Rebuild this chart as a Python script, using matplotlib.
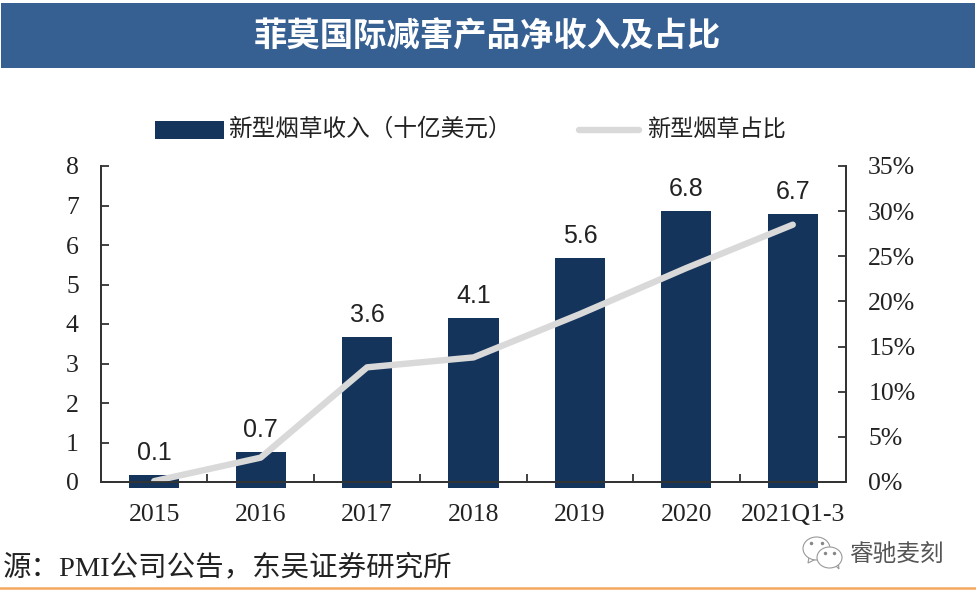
#!/usr/bin/env python3
"""
PMI reduced-risk product revenue and share.
"""

import matplotlib
matplotlib.use("Agg")
import matplotlib.pyplot as plt
from matplotlib.patches import Ellipse, Rectangle, Polygon

SERIF = ["Liberation Serif", "Noto Sans CJK SC", "DejaVu Sans"]
CJK = ["Noto Sans CJK SC", "DejaVu Sans"]

# data
years = ["2015", "2016", "2017", "2018", "2019", "2020", "2021Q1-3"]
revenue = [0.18, 0.76, 3.68, 4.15, 5.66, 6.86, 6.78]
revenue_labels = ["0.1", "0.7", "3.6", "4.1", "5.6", "6.8", "6.7"]
share = [0.1, 2.7, 12.7, 13.8, 18.6, 23.7, 28.5]
left_ticks = [0, 1, 2, 3, 4, 5, 6, 7, 8]
right_ticks = [0, 5, 10, 15, 20, 25, 30, 35]

title_text = "菲莫国际减害产品净收入及占比"
bar_name = "新型烟草收入（十亿美元）"
line_name = "新型烟草占比"
source_text = "源：PMI公司公告，东吴证券研究所"
mark_text = "睿驰麦刻"

navy = "#14345c"
banner = "#365f92"
grey = "#d9d9d9"
axis_col = "#333333"
text_col = "#222222"

fig = plt.figure(figsize=(9.76, 5.97), dpi=100)

# -------------------------------------------------------------
# Bars and line
# -------------------------------------------------------------
ax = fig.add_axes([101 / 976, 1 - 482 / 597, 745 / 976, 316 / 597])
x = list(range(len(years)))
# the bars in the original hang a little below the axis line
drop = 0.15
ax.bar(x, [v + drop for v in revenue], bottom=-drop, width=0.47, color=navy, clip_on=False, zorder=1)
for xi, val, lab in zip(x, revenue, revenue_labels):
    ax.annotate(lab, (xi, val), xytext=(0, 7.2), textcoords="offset points", ha="center", va="bottom",
                fontsize=18, color=text_col, family="Liberation Sans")

ax.set_xlim(-0.5, 6.5)
ax.set_ylim(0, 8)
ax.set_xticks(x)
ax.set_xticklabels(years, family=SERIF, fontsize=18.5, color=text_col)
ax.set_xticks([i + 0.5 for i in x[:-1]], minor=True)
ax.tick_params(axis="x", which="major", length=0, pad=15.5)
ax.tick_params(axis="x", which="minor", length=6, width=1.3, direction="in", color=axis_col)
ax.set_yticks(left_ticks)
ax.set_yticklabels(left_ticks, family=SERIF, fontsize=18.5, color=text_col)
ax.tick_params(axis="y", length=6, width=1.3, direction="in", pad=16, color=axis_col)

ax2 = ax.twinx()
ax2.plot(x, share, color=grey, lw=4.6, solid_capstyle="round", solid_joinstyle="round")
ax2.set_ylim(0, 35)
ax2.set_yticks(right_ticks)
ax2.set_yticklabels([f"{v}%" for v in right_ticks], family=SERIF, fontsize=18.5, color=text_col)
ax2.tick_params(axis="y", length=6, width=1.3, direction="in", pad=16, color=axis_col)

for a in (ax, ax2):
    a.spines["top"].set_visible(False)
    a.patch.set_visible(False)
    for side in ("left", "right", "bottom"):
        a.spines[side].set_color(axis_col)
        a.spines[side].set_linewidth(1.3)

# -------------------------------------------------------------
# Everything outside the plot, on an overlay in pixel coordinates
# -------------------------------------------------------------
over = fig.add_axes([0, 0, 1, 1], zorder=-1)
over.set_xlim(0, 976)
over.set_ylim(597, 0)
over.axis("off")

# title banner
over.add_patch(Rectangle((1, 3), 974, 65, facecolor=banner, edgecolor="none"))
over.text(487, 37, title_text, color="white", fontsize=24, fontweight="bold",
          ha="center", va="center", family=CJK)

# legend
over.add_patch(Rectangle((155, 121), 69, 18, facecolor=navy, edgecolor="none"))
over.text(228, 129, bar_name, fontsize=17, va="center", family=CJK, color=text_col)
over.plot([579, 639], [130, 130], color=grey, lw=4.6, solid_capstyle="round")
over.text(647, 129, line_name, fontsize=16.7, va="center", family=CJK, color=text_col)

# source line and rule
over.text(3, 568, source_text, fontsize=20.5, va="center", family=SERIF, color=text_col)
over.plot([0, 976], [588, 588], color="#f5a860", lw=1.8)

# watermark, two speech bubbles and the account name
bubble = dict(facecolor="white", edgecolor="#999999", lw=0.8)
over.add_patch(Polygon([(809, 557), (808, 563), (816, 559)], **bubble))
over.add_patch(Ellipse((816.5, 548.5), 27, 23, **bubble))
over.add_patch(Polygon([(834, 564), (839, 569), (838, 561)], **bubble))
over.add_patch(Ellipse((829.5, 557.5), 25, 21, **bubble))
over.plot([811, 822, 825, 834], [543, 543, 553, 553], ls="none", marker="o", ms=1.5, color="#888888")
over.text(850, 555, mark_text, fontsize=17, va="center", family=CJK, color="#555555")

fig.savefig("out.png", dpi=100)
